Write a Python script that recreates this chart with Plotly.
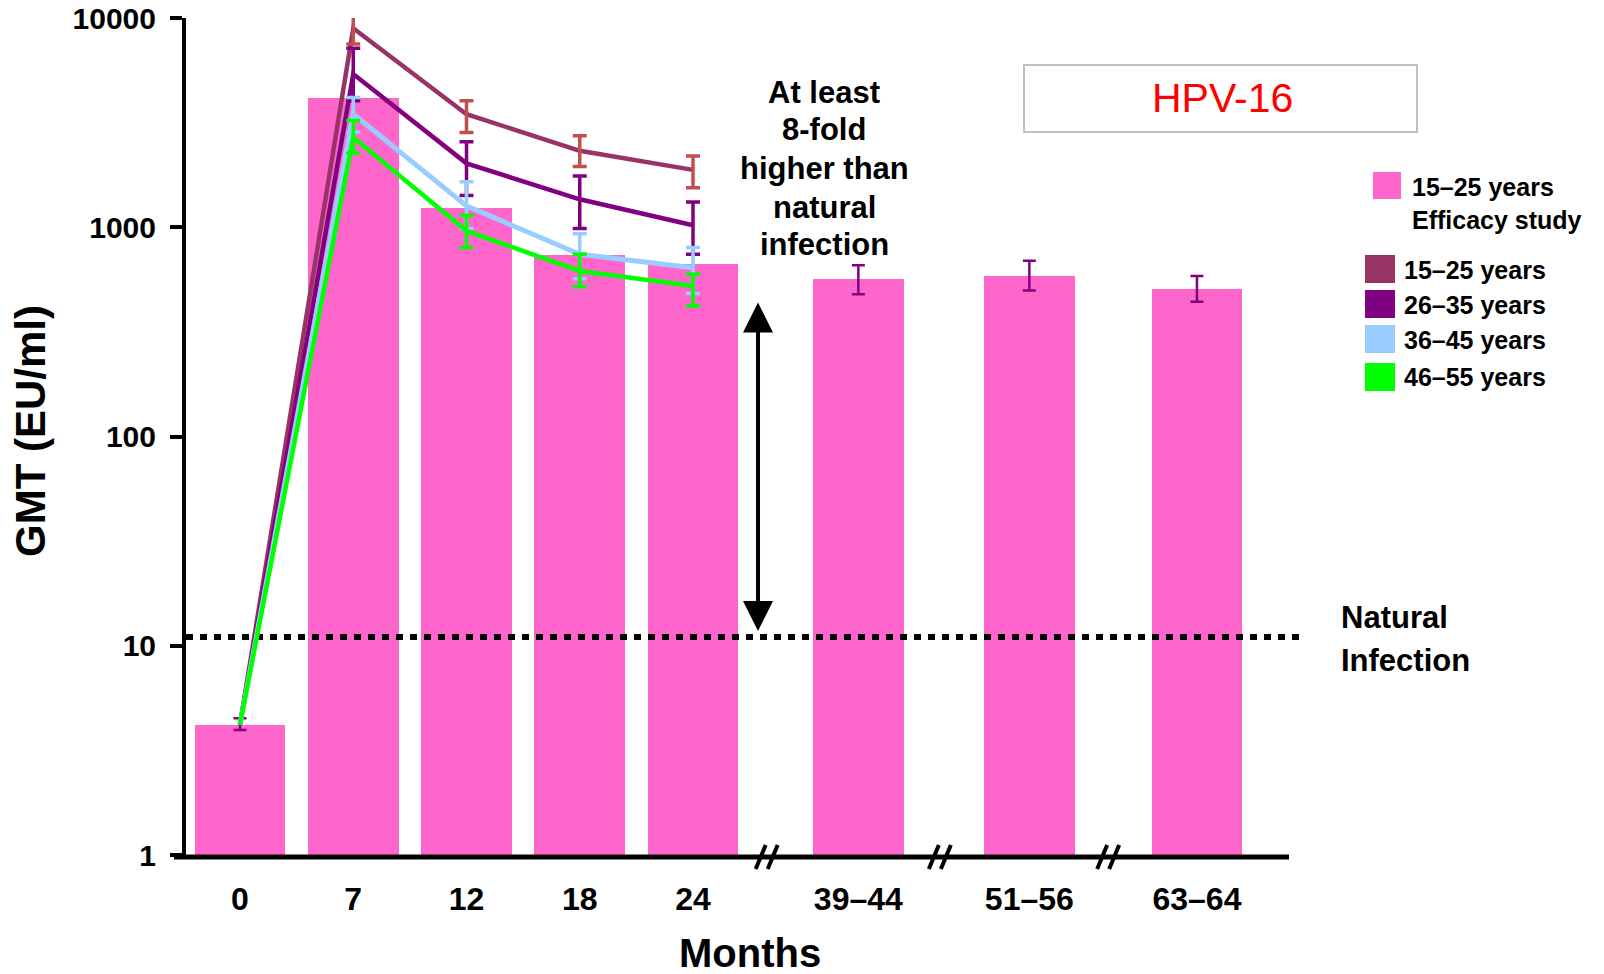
import plotly.graph_objects as go
import math

# ---------------- data ----------------
months = ["0", "7", "12", "18", "24", "39–44", "51–56", "63–64"]

efficacy_gmt = [4.2, 4140, 1242, 735, 665, 564, 583, 505]
efficacy_hi = [4.5, None, None, None, None, 658, 692, 585]
efficacy_lo = [3.96, None, None, None, None, 478, 498, 441]

age_groups = ["15–25 years", "26–35 years", "36–45 years", "46–55 years"]
gmt_15_25 = [4.2, 8930, 3470, 2320, 1880]
hi_15_25 = [None, 10300, 4020, 2735, 2190]
lo_15_25 = [None, 7510, 2840, 1950, 1546]
gmt_26_35 = [4.2, 5400, 2020, 1360, 1022]
hi_26_35 = [None, 7160, 2560, 1760, 1320]
lo_26_35 = [None, 4020, 1420, 985, 743]
gmt_36_45 = [4.2, 3475, 1265, 743, 641]
hi_36_45 = [None, 4170, 1650, 931, 800]
lo_36_45 = [None, 2850, 985, 568, 483]
gmt_46_55 = [4.2, 2690, 960, 618, 524]
hi_46_55 = [None, 3240, 1140, 743, 596]
lo_46_55 = [None, 2260, 800, 520, 420]

natural_infection = 11.0
ytick_vals = [1, 10, 100, 1000, 10000]
ytick_text = ["1", "10", "100", "1000", "10000"]

# ---------------- layout geometry ----------------
W, H = 1604, 974
L, R, T, B = 186, 1300, 18, 855          # plot area in pixels
slots = [0, 1, 2, 3, 4, 5.46, 6.97, 8.45]  # horizontal slot per month (broken axis)
unit = 113.25
XMIN = (L - 240) / unit
XMAX = XMIN + (R - L) / unit

def pxx(x):
    return (x - L) / (R - L)

def pxy(y):
    return (B - y) / (B - T)

def data2px(d):
    return L + (d - XMIN) / (XMAX - XMIN) * (R - L)

BOLD = "Liberation Sans, Arial, sans-serif"

fig = go.Figure()

# bars
fig.add_trace(go.Bar(
    x=slots, y=efficacy_gmt, width=0.8,
    marker=dict(color="#FF66CC", line=dict(width=0)),
    hoverinfo="skip",
))
idx = [i for i, v in enumerate(efficacy_hi) if v is not None]
fig.add_trace(go.Scatter(
    x=[slots[i] for i in idx], y=[efficacy_gmt[i] for i in idx], mode="markers",
    marker=dict(size=1, color="rgba(0,0,0,0)"),
    error_y=dict(type="data", symmetric=False,
                 array=[efficacy_hi[i] - efficacy_gmt[i] for i in idx],
                 arrayminus=[efficacy_gmt[i] - efficacy_lo[i] for i in idx],
                 color="#800080", thickness=2.5, width=6.5),
    hoverinfo="skip",
))

# natural infection dotted line
fig.add_trace(go.Scatter(
    x=[XMIN, XMAX], y=[natural_infection, natural_infection], mode="lines",
    line=dict(color="black", width=6, dash="7px,7px"), hoverinfo="skip",
))

series = [
    (gmt_15_25, hi_15_25, lo_15_25, "#993366", "#C0504D", 4.5),
    (gmt_26_35, hi_26_35, lo_26_35, "#800080", "#800080", 4.5),
    (gmt_36_45, hi_36_45, lo_36_45, "#99CCFF", "#99CCFF", 5),
    (gmt_46_55, hi_46_55, lo_46_55, "#00FF00", "#00FF00", 4.5),
]
for g, hi, lo, lc, ec, lw in series:
    xs = slots[:len(g)]
    fig.add_trace(go.Scatter(
        x=xs, y=g, mode="lines", line=dict(color=lc, width=lw), hoverinfo="skip",
    ))
    ii = [i for i, v in enumerate(hi) if v is not None]
    fig.add_trace(go.Scatter(
        x=[xs[i] for i in ii], y=[g[i] for i in ii], mode="markers",
        marker=dict(size=1, color="rgba(0,0,0,0)"), cliponaxis=False,
        error_y=dict(type="data", symmetric=False,
                     array=[hi[i] - g[i] for i in ii],
                     arrayminus=[g[i] - lo[i] for i in ii],
                     color=ec, thickness=3.5, width=7),
        hoverinfo="skip",
    ))

shapes = []
# x axis line (extends left of the y axis)
shapes.append(dict(type="line", xref="paper", yref="paper",
                   x0=pxx(174), x1=pxx(1289), y0=pxy(857), y1=pxy(857),
                   line=dict(color="black", width=5)))
# axis break marks
for (a, b), shift in zip([(4, 5), (5, 6), (6, 7)], [-9, -4, -5]):
    c = data2px((slots[a] + slots[b]) / 2) + shift
    for off in (-6, 6):
        shapes.append(dict(type="line", xref="paper", yref="paper",
                           x0=pxx(c + off - 5), y0=pxy(869), x1=pxx(c + off + 5), y1=pxy(845),
                           line=dict(color="black", width=4)))
# HPV-16 box
shapes.append(dict(type="rect", xref="paper", yref="paper",
                   x0=pxx(1024), x1=pxx(1417), y0=pxy(132), y1=pxy(65),
                   line=dict(color="#C0C0C0", width=2), fillcolor="white"))
# legend squares
legend_sq = [(1373, 172, 1401, 199, "#FF66CC"),
             (1365, 255, 1395, 283, "#993366"),
             (1365, 290, 1395, 318, "#800080"),
             (1365, 325, 1395, 353, "#99CCFF"),
             (1365, 363, 1395, 391, "#00FF00")]
for x0, y0, x1, y1, col in legend_sq:
    shapes.append(dict(type="rect", xref="paper", yref="paper",
                       x0=pxx(x0), x1=pxx(x1), y0=pxy(y1), y1=pxy(y0),
                       line=dict(width=0), fillcolor=col))

ann = []
def text(x, y, s, size, color="black", bold=True, xanchor="center", family=BOLD, angle=0):
    ann.append(dict(x=pxx(x), y=pxy(y), xref="paper", yref="paper", text=s,
                    showarrow=False, xanchor=xanchor, yanchor="middle", textangle=angle,
                    font=dict(family=family, size=size, color=color,
                              weight="bold" if bold else "normal")))

for yy, s in zip([92, 130, 169, 207, 245],
                 ["At least", "8-fold", "higher than", "natural", "infection"]):
    text(824, yy, s, 31)
text(1222, 98, "HPV-16", 41, color="#FF0000", bold=False)
text(1410, 187, "15–25 years", 25, xanchor="left")
text(1410, 220, "Efficacy study", 25, xanchor="left")
for yy, s in zip([270, 305, 340, 377], age_groups):
    text(1402, yy, s, 25, xanchor="left")
text(1339, 617, "Natural", 31, xanchor="left")
text(1339, 660, "Infection", 31, xanchor="left")
text(750, 953, "Months", 40)
text(31, 431, "GMT (EU/ml)", 42, angle=-90)

# double-headed arrow
ann.append(dict(x=4.574, y=2.640, xref="x", yref="y",
                ax=4.574, ay=1.0636, axref="x", ayref="y",
                showarrow=True, arrowhead=2, startarrowhead=2, arrowside="end+start",
                arrowsize=1.5, startarrowsize=1.5, arrowwidth=4, arrowcolor="black",
                standoff=0, startstandoff=0, text=""))

fig.update_layout(
    width=W, height=H,
    margin=dict(l=L, r=W - R, t=T, b=H - B, pad=0, autoexpand=False),
    plot_bgcolor="white", paper_bgcolor="white",
    showlegend=False, bargap=0,
    shapes=shapes, annotations=ann,
    xaxis=dict(range=[XMIN, XMAX], tickvals=slots, ticktext=months,
               showline=False, showgrid=False, zeroline=False, automargin=False,
               ticks="outside", ticklen=16, tickcolor="rgba(0,0,0,0)",
               tickfont=dict(family=BOLD, size=32, color="black", weight="bold")),
    yaxis=dict(type="log", range=[0, 4], tickvals=ytick_vals, ticktext=ytick_text,
               showline=True, linewidth=4, linecolor="black", automargin=False,
               showgrid=False, zeroline=False,
               ticks="outside", ticklen=12, tickwidth=4, tickcolor="black",
               ticklabelstandoff=8,
               tickfont=dict(family=BOLD, size=30, color="black", weight="bold")),
)

fig.write_html("out.html")
